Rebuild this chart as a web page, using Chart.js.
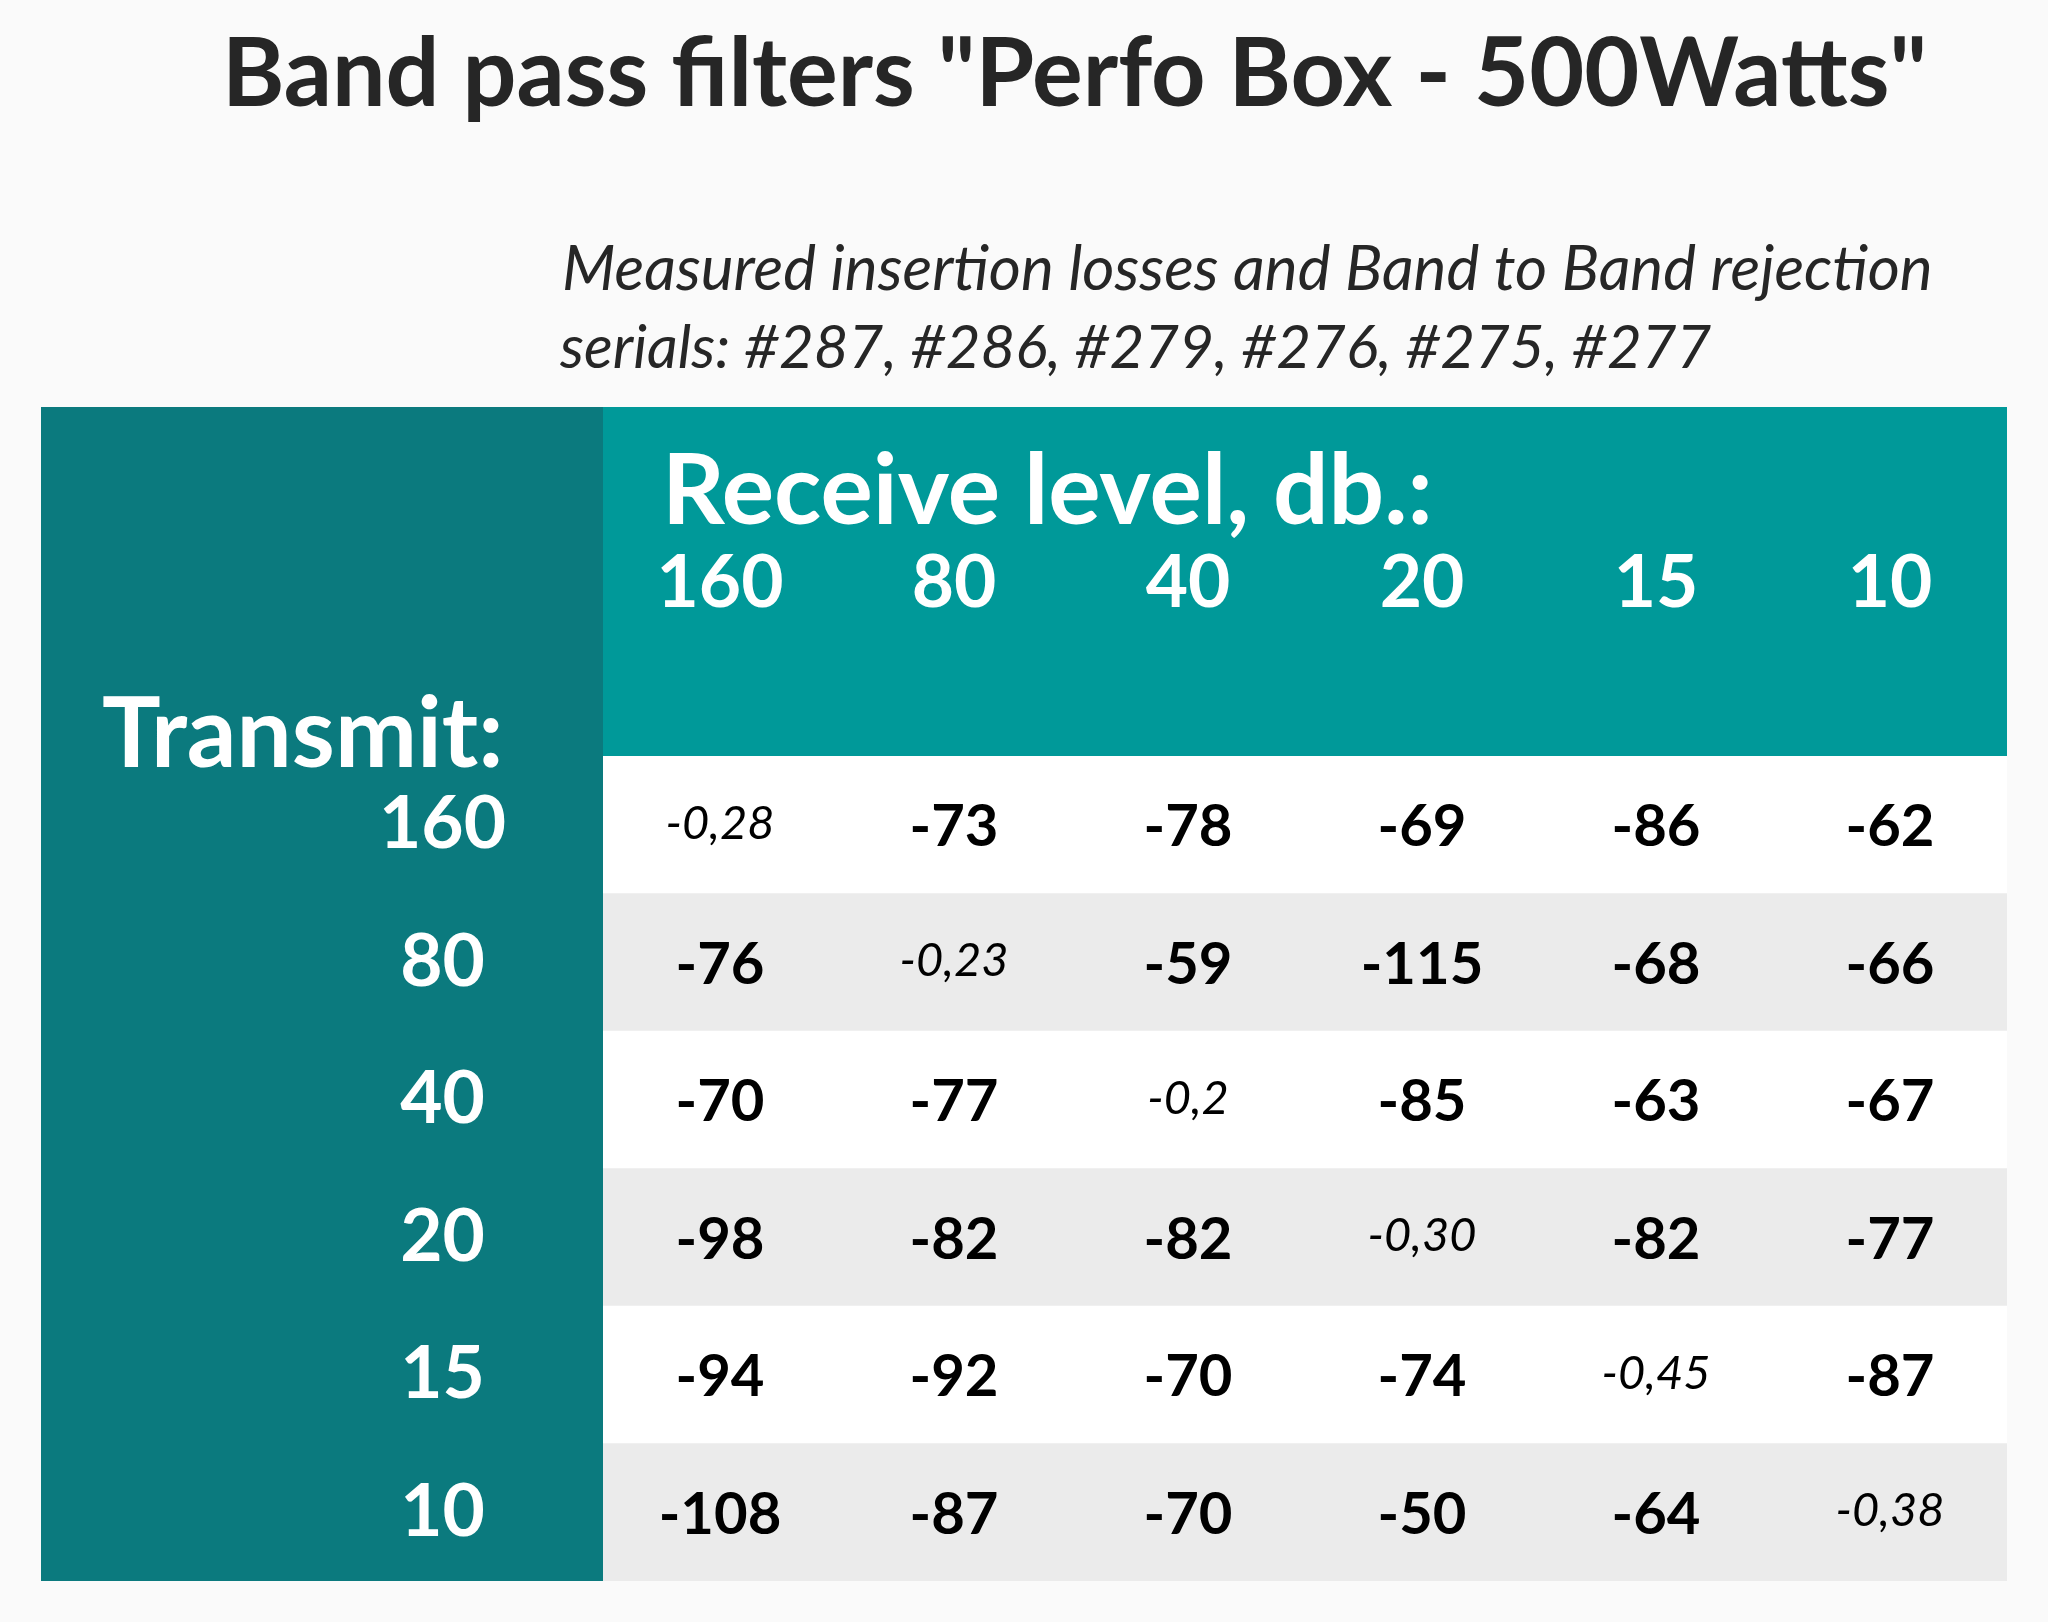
<!DOCTYPE html>
<html lang="en">
<head>
    <meta charset="UTF-8">
    <title>Band pass filters</title>
    <style>
        body {
            margin: 0;
            overflow: hidden;
            background-color: #fafafa;
        }

        #filter-chart {
            display: block;
        }
    </style>
    <script src="https://cdn.jsdelivr.net/npm/chart.js"></script>
</head>
<body>
    <canvas id="filter-chart" width="2048" height="1622"></canvas>
    <script>
        // Receive bands (columns) and transmit bands (rows)
        const rxBands = ['160', '80', '40', '20', '15', '10'];
        const txBands = ['160', '80', '40', '20', '15', '10'];

        // Receive level in db for each transmit band, as printed
        const tx160 = ['-0,28', '-73', '-78', '-69', '-86', '-62'];
        const tx80 = ['-76', '-0,23', '-59', '-115', '-68', '-66'];
        const tx40 = ['-70', '-77', '-0,2', '-85', '-63', '-67'];
        const tx20 = ['-98', '-82', '-82', '-0,30', '-82', '-77'];
        const tx15 = ['-94', '-92', '-70', '-74', '-0,45', '-87'];
        const tx10 = ['-108', '-87', '-70', '-50', '-64', '-0,38'];
        const levels = [tx160, tx80, tx40, tx20, tx15, tx10];

        const titleText = 'Band pass filters "Perfo Box - 500Watts"';
        const subtitleLines = [
            'Measured insertion losses and Band to Band rejection',
            'serials: #287, #286, #279, #276, #275, #277'
        ];

        const FONT = 'Lato, "Open Sans", sans-serif';

        // Backgrounds, headings and the cell values
        const tablePlugin = {
            id: 'tablePlugin',
            beforeDraw(chart) {
                const { ctx, chartArea, scales } = chart;
                const y = scales.y;
                const x2 = scales.x2;
                ctx.save();
                ctx.fillStyle = '#fafafa';
                ctx.fillRect(0, 0, chart.width, chart.height);

                ctx.fillStyle = '#0b7a7e';
                ctx.fillRect(y.left, x2.top, chartArea.left - y.left, chartArea.bottom - x2.top);
                ctx.fillStyle = '#009999';
                ctx.fillRect(chartArea.left, x2.top, chartArea.right - chartArea.left, chartArea.top - x2.top);

                ctx.fillStyle = '#262626';
                ctx.textBaseline = 'alphabetic';
                ctx.textAlign = 'left';
                ctx.font = 'bold 95px ' + FONT;
                ctx.fillText(titleText, 222, 106);

                ctx.font = 'italic 62px ' + FONT;
                ctx.fillText(subtitleLines[0], 562, 290);
                ctx.font = 'italic 60px ' + FONT;
                ctx.fillText(subtitleLines[1], 560, 368);

                ctx.fillStyle = '#ffffff';
                ctx.font = 'bold 98px ' + FONT;
                ctx.fillText('Receive level, db.:', chartArea.left + 59, x2.top + 117);
                ctx.fillText('Transmit:', y.left + 61, chartArea.top + 11);
                ctx.restore();
            },
            afterDatasetsDraw(chart) {
                const { ctx, scales } = chart;
                ctx.save();
                ctx.fillStyle = '#000000';
                ctx.textAlign = 'center';
                ctx.textBaseline = 'middle';
                levels.forEach((row, i) => {
                    row.forEach((val, j) => {
                        const px = scales.x2.getPixelForValue(j);
                        const py = scales.y.getPixelForValue(i);
                        if (i === j) {
                            ctx.font = 'italic 47px ' + FONT;
                            ctx.fillText(val, px, py - 1);
                        } else {
                            ctx.font = 'bold 58px ' + FONT;
                            ctx.fillText(val, px, py + 3);
                        }
                    });
                });
                ctx.restore();
            }
        };

        const ctx = document.getElementById('filter-chart').getContext('2d');
        const chart = new Chart(ctx, {
            type: 'bar',
            data: {
                labels: txBands,
                datasets: [{
                    label: 'rows',
                    data: txBands.map(() => rxBands.length),
                    backgroundColor: txBands.map((b, i) => i % 2 === 0 ? '#ffffff' : '#ebebeb'),
                    borderWidth: 0,
                    barPercentage: 1,
                    categoryPercentage: 1
                }]
            },
            options: {
                indexAxis: 'y',
                responsive: false,
                animation: false,
                devicePixelRatio: 1,
                layout: {
                    padding: { top: 407, left: 41, right: 41, bottom: 41 }
                },
                plugins: {
                    legend: { display: false },
                    tooltip: { enabled: false },
                    title: { display: false }
                },
                scales: {
                    x: {
                        type: 'linear',
                        min: 0,
                        max: rxBands.length,
                        display: false
                    },
                    x2: {
                        type: 'category',
                        labels: rxBands,
                        position: 'top',
                        offset: true,
                        grid: { display: false, drawTicks: false },
                        border: { display: false },
                        ticks: {
                            color: '#ffffff',
                            font: { family: FONT, size: 73, weight: 'bold' },
                            padding: 129,
                            maxRotation: 0
                        },
                        afterFit(scale) {
                            scale.height = 349;
                            scale.paddingLeft = 0;
                            scale.paddingRight = 0;
                        }
                    },
                    y: {
                        type: 'category',
                        grid: { display: false, drawTicks: false },
                        border: { display: false },
                        ticks: {
                            color: '#ffffff',
                            font: { family: FONT, size: 73, weight: 'bold' },
                            crossAlign: 'center',
                            padding: 97
                        },
                        afterFit(scale) {
                            scale.width = 562;
                            scale.paddingTop = 0;
                            scale.paddingBottom = 0;
                        }
                    }
                }
            },
            plugins: [tablePlugin]
        });
    </script>
</body>
</html>
